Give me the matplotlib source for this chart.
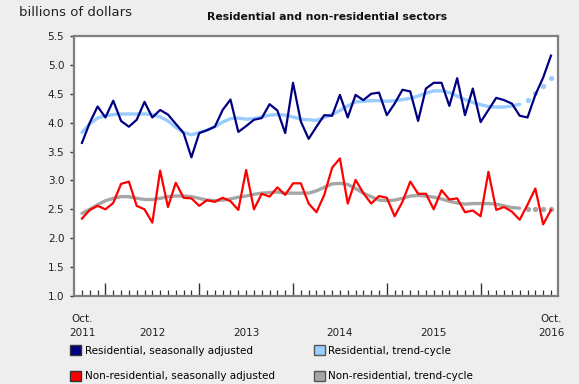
import matplotlib
matplotlib.use("Agg")
import matplotlib.pyplot as plt
import numpy as np
from matplotlib.patches import Patch

# monthly values, Oct. 2011 to Oct. 2016 (billions of dollars)
res_sa = [3.65, 4.00, 4.28,
          4.09, 4.38, 4.03, 3.93, 4.05, 4.36, 4.09, 4.22, 4.14, 3.98, 3.82, 3.40,
          3.82, 3.87, 3.93, 4.22, 4.40, 3.84, 3.94, 4.05, 4.08, 4.32, 4.21, 3.82,
          4.69, 4.02, 3.72, 3.93, 4.13, 4.12, 4.48, 4.09, 4.48, 4.39, 4.50, 4.52,
          4.13, 4.33, 4.57, 4.54, 4.03, 4.59, 4.69, 4.69, 4.29, 4.77, 4.13, 4.59,
          4.01, 4.22, 4.43, 4.39, 4.33, 4.12, 4.09, 4.48, 4.78, 5.16]
res_trend = [3.83, 3.98, 4.08,
             4.12, 4.14, 4.15, 4.15, 4.15, 4.15, 4.14, 4.10, 4.03, 3.92, 3.83, 3.79,
             3.83, 3.87, 3.93, 4.01, 4.07, 4.08, 4.06, 4.07, 4.10, 4.13, 4.14, 4.13,
             4.10, 4.06, 4.05, 4.04, 4.09, 4.14, 4.21, 4.29, 4.36, 4.37, 4.38, 4.38,
             4.37, 4.38, 4.40, 4.42, 4.46, 4.51, 4.55, 4.55, 4.52, 4.46, 4.40, 4.35,
             4.31, 4.28, 4.27, 4.27, 4.29, 4.32, 4.40, 4.52, 4.64, 4.78]
nonres_sa = [2.34, 2.49, 2.56,
             2.50, 2.61, 2.94, 2.98, 2.56, 2.50, 2.27, 3.17, 2.54, 2.96, 2.70, 2.69,
             2.56, 2.66, 2.63, 2.70, 2.64, 2.49, 3.18, 2.50, 2.77, 2.72, 2.88, 2.75,
             2.95, 2.95, 2.60, 2.45, 2.75, 3.22, 3.38, 2.60, 3.01, 2.78, 2.60, 2.73,
             2.70, 2.38, 2.63, 2.98, 2.77, 2.77, 2.50, 2.83, 2.67, 2.69, 2.45, 2.48,
             2.38, 3.15, 2.49, 2.54, 2.46, 2.32, 2.58, 2.86, 2.24, 2.49]
nonres_trend = [2.43, 2.50, 2.58,
                2.65, 2.69, 2.72, 2.72, 2.69, 2.67, 2.67, 2.69, 2.72, 2.73, 2.73, 2.72,
                2.69, 2.66, 2.65, 2.66, 2.68, 2.71, 2.73, 2.76, 2.78, 2.79, 2.80, 2.78,
                2.78, 2.78, 2.78, 2.82, 2.88, 2.94, 2.95, 2.93, 2.86, 2.78, 2.72, 2.66,
                2.65, 2.66, 2.69, 2.73, 2.74, 2.73, 2.71, 2.68, 2.64, 2.61, 2.59, 2.60,
                2.60, 2.60, 2.59, 2.56, 2.53, 2.52, 2.50, 2.50, 2.50, 2.50]

# last four trend-cycle months are shown as dots
n_dotted = 4

year_tick_idx = [3, 15, 27, 39, 51]           # January of each year
label_idx = [0, 9, 21, 33, 45, 60]
label_text = ["Oct.\n2011", "\n2012", "\n2013", "\n2014", "\n2015", "Oct.\n2016"]

legend_labels = [
    "Residential, seasonally adjusted",
    "Non-residential, seasonally adjusted",
    "Residential, trend-cycle",
    "Non-residential, trend-cycle",
]

NAVY = "#000080"
LIGHT_BLUE = "#99CCFF"
RED = "#FF0000"
GREY = "#A6A6A6"
SPINE = "#7F7F7F"
BG = "#EEEEEE"


def main() -> None:
    x = np.arange(len(res_sa))
    cut = len(res_sa) - n_dotted

    figure = plt.figure(figsize=(5.79, 3.84), dpi=100, facecolor=BG)
    axis = figure.add_axes([74 / 579, 1 - 296 / 384, 484 / 579, 260 / 384])
    axis.set_facecolor("white")

    axis.plot(x[:cut], res_trend[:cut], color=LIGHT_BLUE, linewidth=2.4,
              solid_capstyle="round", zorder=2)
    axis.plot(x[cut:], res_trend[cut:], linestyle="none", marker="o",
              markersize=3.8, color=LIGHT_BLUE, markeredgewidth=0, zorder=2)
    axis.plot(x[:cut], nonres_trend[:cut], color=GREY, linewidth=2.4,
              solid_capstyle="round", zorder=2)
    axis.plot(x[cut:], nonres_trend[cut:], linestyle="none", marker="o",
              markersize=3.8, color=GREY, markeredgewidth=0, zorder=2)
    axis.plot(x, res_sa, color=NAVY, linewidth=1.6, zorder=3)
    axis.plot(x, nonres_sa, color=RED, linewidth=1.6, zorder=3)

    axis.set_xlim(-1.02, 60.9)
    axis.set_ylim(1.0, 5.5)

    for spine in axis.spines.values():
        spine.set_color(SPINE)
        spine.set_linewidth(1.6)

    axis.set_yticks(np.arange(1.0, 5.51, 0.5))
    axis.set_yticklabels([f"{v:.1f}" for v in np.arange(1.0, 5.51, 0.5)])
    axis.tick_params(axis="y", direction="out", length=3, width=1,
                     color="#333333", pad=4, labelsize=7.5, labelcolor="#222222")

    axis.set_xticks(year_tick_idx)
    axis.set_xticklabels([])
    axis.set_xticks(x, minor=True)
    axis.tick_params(axis="x", which="major", direction="in", length=9.5,
                     width=1, color="#333333")
    axis.tick_params(axis="x", which="minor", direction="in", length=4,
                     width=0.9, color="#333333")

    labels_axis = axis.secondary_xaxis("bottom")
    labels_axis.set_xticks(label_idx)
    labels_axis.set_xticklabels(label_text, linespacing=1.5)
    labels_axis.tick_params(axis="x", length=0, pad=13, labelsize=7.5,
                            labelcolor="#222222")
    labels_axis.spines["bottom"].set_visible(False)

    figure.text(19 / 579, 1 - 13 / 384, "billions of dollars", fontsize=9.5,
                va="center", ha="left", color="#222222")
    figure.text(327 / 579, 1 - 17 / 384, "Residential and non-residential sectors",
                fontsize=7.8, fontweight="bold", va="center", ha="center",
                color="#111111")

    handles = [
        Patch(facecolor=NAVY, edgecolor="#333333", linewidth=1),
        Patch(facecolor=RED, edgecolor="#333333", linewidth=1),
        Patch(facecolor=LIGHT_BLUE, edgecolor="#555555", linewidth=1),
        Patch(facecolor=GREY, edgecolor="#555555", linewidth=1),
    ]
    figure.legend(
        handles,
        legend_labels,
        ncol=2,
        loc="upper left",
        bbox_to_anchor=(70 / 579, 1 - 345 / 384),
        frameon=False,
        fontsize=7.5,
        handlelength=1.1,
        handleheight=1.1,
        handletextpad=0.3,
        columnspacing=3.75,
        labelspacing=1.45,
        borderaxespad=0,
        borderpad=0,
    )

    figure.savefig("out.png", dpi=100, facecolor=BG)


if __name__ == "__main__":
    main()
